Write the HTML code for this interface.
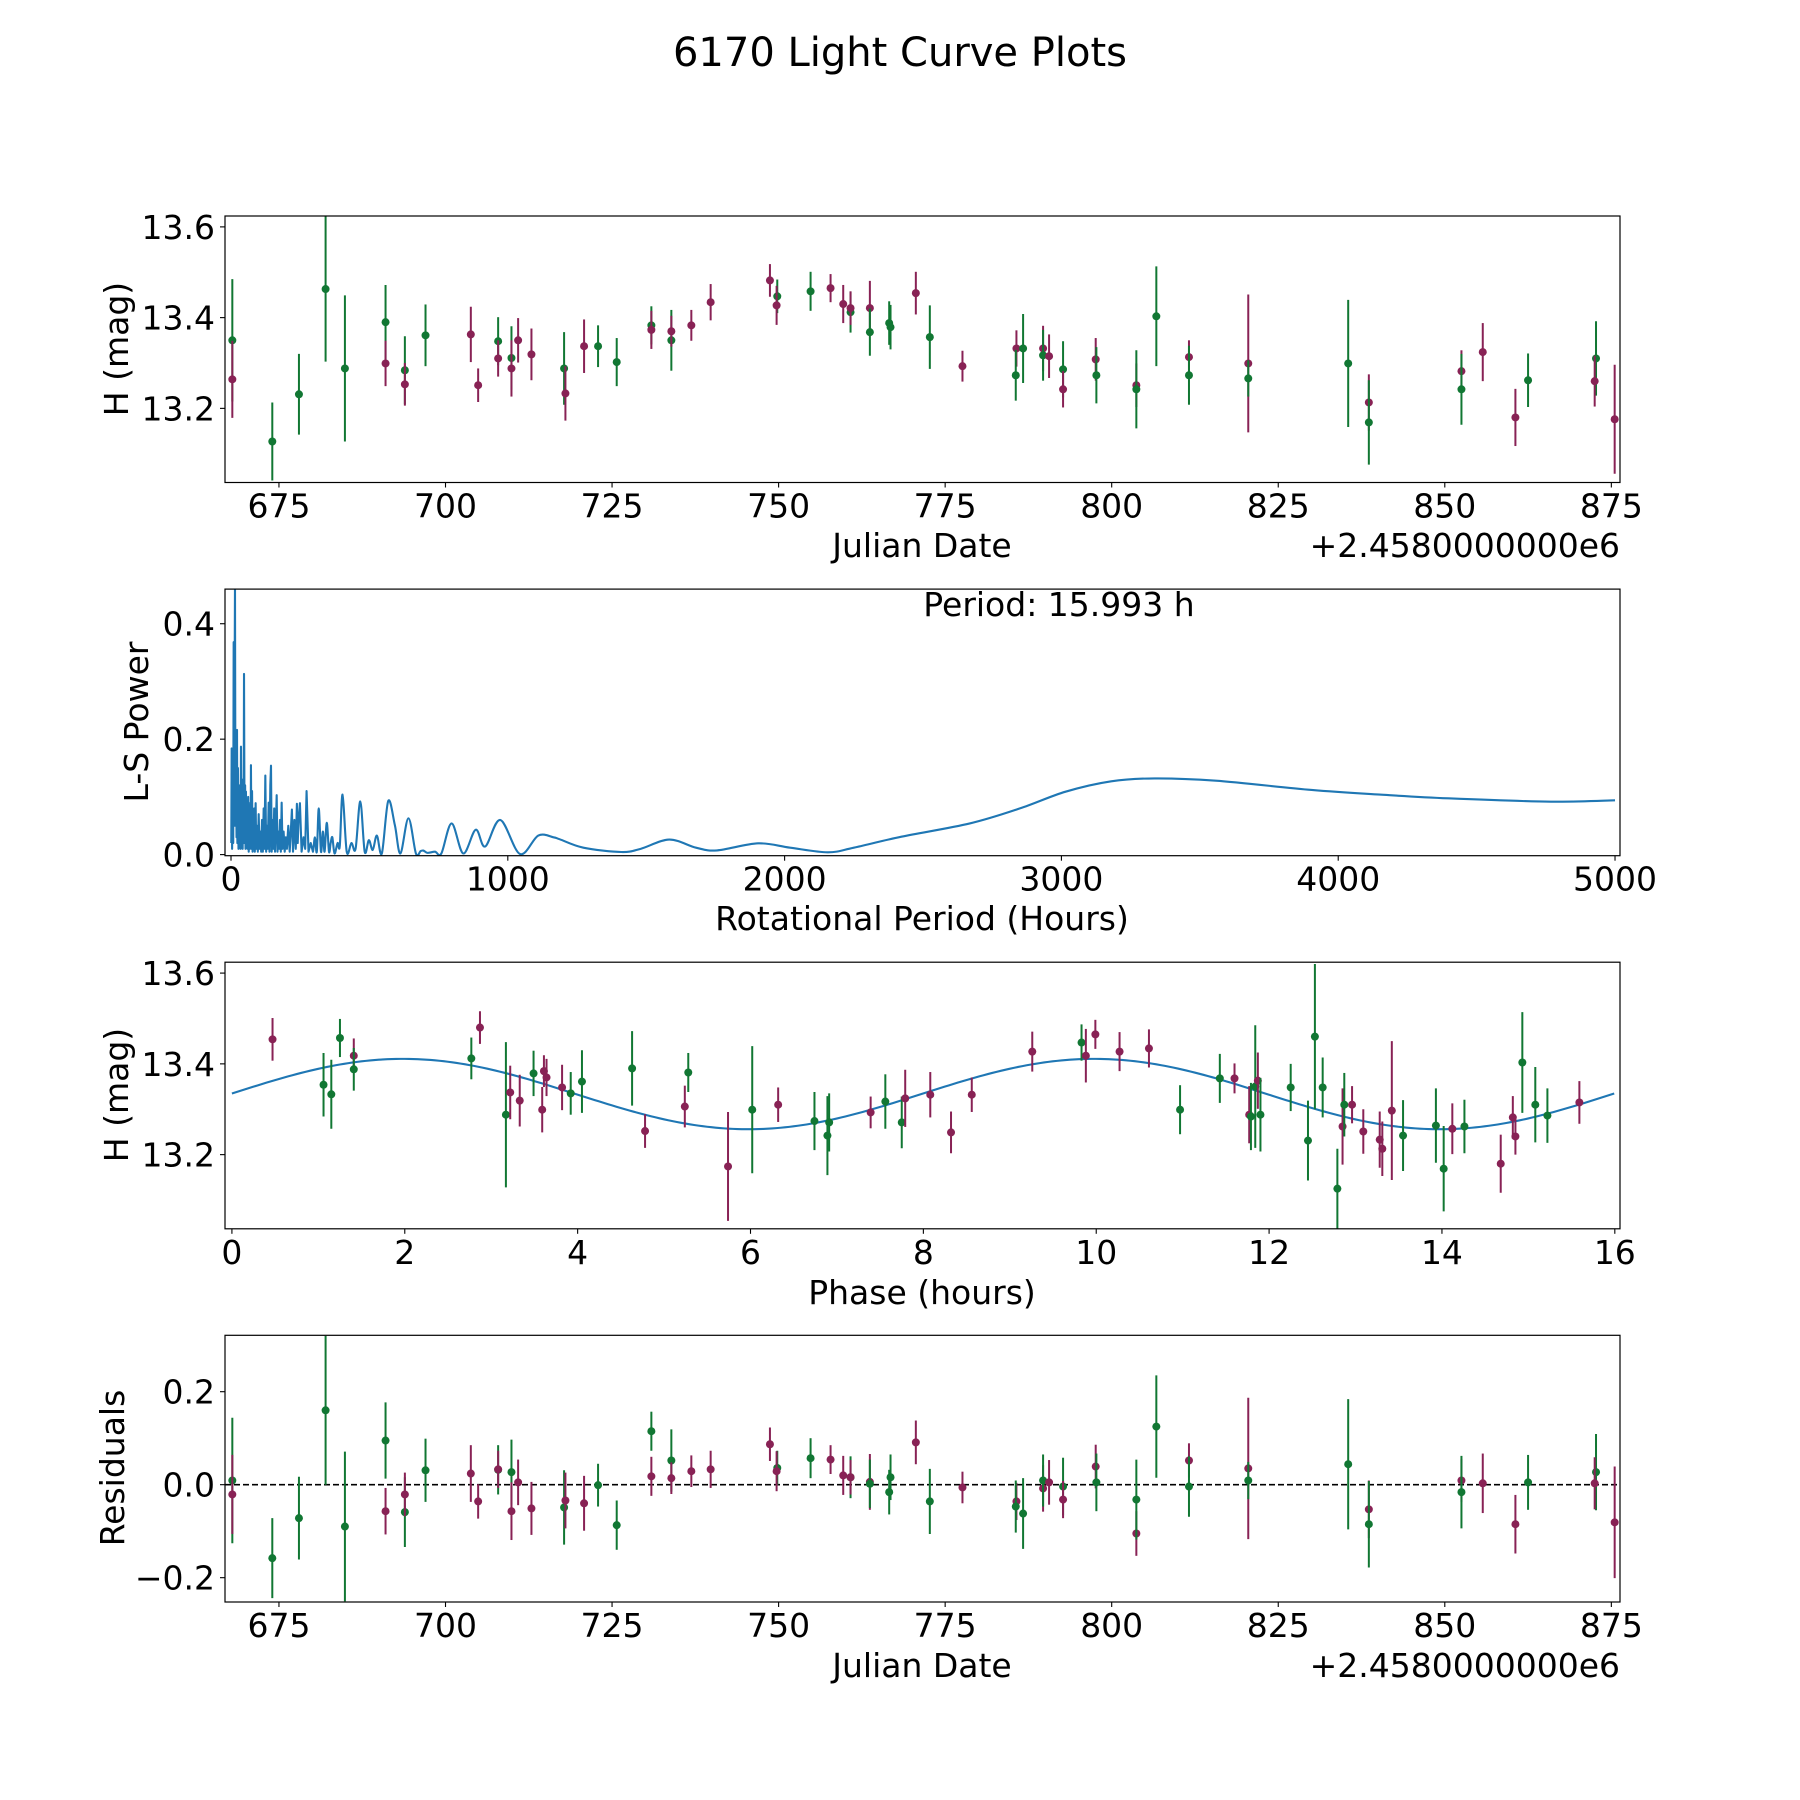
<!DOCTYPE html>
<html><head><meta charset="utf-8"><title>6170 Light Curve Plots</title>
<style>
html,body{margin:0;padding:0;background:#fff;}
svg{display:block;font-family:"DejaVu Sans","Liberation Sans",sans-serif;}
</style></head>
<body>
<svg id="fig" width="1800" height="1800" viewBox="0 0 1800 1800" xmlns="http://www.w3.org/2000/svg">
<rect x="0" y="0" width="1800" height="1800" fill="#fff"/>
<text x="900" y="66" font-size="40" text-anchor="middle" fill="#000">6170 Light Curve Plots</text>
</svg>
<script>
// ---------- light curve data ----------
const dates = [668.0,668.0,674.0,678.0,682.0,684.9,691.0,691.0,693.9,693.9,697.0,703.8,704.9,707.9,707.9,709.9,709.9,710.9,712.9,717.8,718.0,720.8,722.9,725.7,730.9,730.9,733.9,733.9,736.9,739.8,748.7,749.8,749.7,754.8,757.8,759.7,760.8,760.8,763.7,763.7,766.6,766.8,770.6,
772.7,777.6,785.7,785.6,786.7,789.7,789.7,790.6,792.7,792.7,797.6,797.7,803.7,803.7,806.7,811.6,811.6,820.5,820.5,835.5,838.6,838.6,852.5,852.5,855.7,860.6,862.5,872.7,872.5,875.5];
const mags = [13.350,13.264,13.127,13.231,13.463,13.288,13.390,13.299,13.284,13.253,13.361,13.363,13.251,13.348,13.310,13.311,13.288,13.350,13.319,13.288,13.233,13.337,13.337,13.302,13.383,13.373,13.350,13.370,13.383,13.434,13.482,13.447,13.427,13.458,13.465,13.430,13.412,13.421,13.421,13.368,13.388,13.379,13.454,
13.357,13.293,13.332,13.273,13.332,13.332,13.317,13.315,13.286,13.242,13.308,13.273,13.251,13.242,13.403,13.313,13.273,13.299,13.266,13.299,13.213,13.169,13.282,13.242,13.324,13.180,13.262,13.310,13.260,13.176];
const errs = [0.135,0.085,0.086,0.089,0.160,0.161,0.082,0.050,0.075,0.047,0.068,0.061,0.037,0.053,0.040,0.070,0.062,0.049,0.057,0.080,0.060,0.059,0.046,0.053,0.042,0.042,0.067,0.034,0.034,0.040,0.036,0.037,0.043,0.043,0.031,0.042,0.045,0.037,0.060,0.052,0.048,0.049,0.047,
0.070,0.034,0.040,0.056,0.076,0.050,0.056,0.048,0.062,0.040,0.047,0.062,0.048,0.086,0.110,0.037,0.065,0.152,0.040,0.140,0.062,0.093,0.046,0.078,0.064,0.063,0.059,0.082,0.056,0.120];
const groups = ["g","m","g","g","g","g","g","m","g","m","g","m","m","g","m","g","m","m","m","g","m","m","g","g","g","m","g","m","m","m","m","g","m","g","m","m","g","m","m","g","g","g","m",
"g","m","m","g","g","m","g","m","g","m","m","g","m","g","g","m","g","m","g","g","m","g","m","g","m","m","g","g","m","m"];
const residuals = [0.009,-0.021,-0.158,-0.072,0.160,-0.090,0.095,-0.057,-0.059,-0.021,0.031,0.024,-0.036,0.032,0.033,0.027,-0.057,0.005,-0.051,-0.049,-0.034,-0.040,-0.001,-0.087,0.115,0.018,0.052,0.014,0.029,0.033,0.087,0.036,0.029,0.057,0.054,0.020,0.016,0.016,0.006,0.002,-0.016,0.016,0.091,
-0.036,-0.006,-0.036,-0.047,-0.062,-0.008,0.009,0.005,-0.004,-0.032,0.039,0.005,-0.105,-0.032,0.125,0.052,-0.004,0.035,0.009,0.044,-0.053,-0.085,0.009,-0.016,0.003,-0.085,0.005,0.027,0.003,-0.081];

// ---------- phase-folded data ----------
const phases = [0.47,1.06,1.15,1.25,1.41,1.41,2.77,2.87,3.17,3.22,3.33,3.49,3.61,3.64,3.59,3.82,3.92,4.05,4.63,4.78,5.24,5.28,5.74,6.02,6.32,6.74,6.89,6.91,7.39,7.56,7.75,7.79,
8.08,8.32,8.56,9.26,9.83,9.88,9.99,10.27,10.61,10.97,11.43,11.60,11.77,11.79,11.84,11.87,11.90,12.25,12.45,12.53,12.62,12.79,12.85,12.87,12.96,13.09,13.28,13.31,13.42,13.55,13.93,14.02,14.12,14.26,14.68,14.82,14.85,14.93,15.08,15.22,15.59];
const phaseMags = [13.454,13.354,13.333,13.457,13.418,13.388,13.412,13.480,13.288,13.337,13.319,13.379,13.384,13.370,13.299,13.348,13.335,13.361,13.390,13.252,13.306,13.381,13.174,13.299,13.310,13.274,13.242,13.271,13.293,13.317,13.271,13.324,
13.332,13.249,13.332,13.427,13.447,13.418,13.465,13.427,13.434,13.299,13.368,13.368,13.288,13.284,13.350,13.363,13.288,13.348,13.231,13.460,13.348,13.125,13.262,13.310,13.310,13.251,13.233,13.213,13.297,13.242,13.264,13.169,13.257,13.262,13.180,13.282,13.240,13.403,13.310,13.286,13.315];
const phaseErrs = [0.047,0.070,0.076,0.042,0.038,0.047,0.046,0.036,0.160,0.059,0.057,0.050,0.035,0.041,0.050,0.050,0.047,0.069,0.082,0.037,0.046,0.043,0.120,0.140,0.038,0.064,0.087,0.064,0.035,0.060,0.057,0.063,
0.050,0.046,0.038,0.044,0.040,0.059,0.032,0.043,0.042,0.054,0.054,0.033,0.063,0.074,0.135,0.062,0.081,0.052,0.088,0.160,0.066,0.088,0.084,0.070,0.041,0.049,0.062,0.060,0.153,0.078,0.082,0.094,0.056,0.059,0.064,0.047,0.040,0.111,0.083,0.060,0.047];
const phaseGroups = ["m","g","g","g","m","g","g","m","g","m","m","g","m","m","m","m","g","g","g","m","m","g","m","g","m","g","g","g","m","g","g","m",
"m","m","m","m","g","m","m","m","m","g","g","m","m","g","g","m","g","g","g","g","g","g","m","g","m","m","m","m","m","g","g","g","m","g","m","m","m","g","g","g","m"];
// fitted sinusoid parameters (double-peaked model)
const fitMean = 13.3335;
const fitAmp = 0.0775;
const fitPeakPhase = 1.98;
const fitCycle = 7.9965;
const foldPeriod = 15.993;

// ---------- periodogram ----------
const lsPeriods = [1,2.4,4,6,8,9.6,11,14.4,16,18,20,21.7,23,25,27,29,31,33,34.5,36,38,40,42,44,45.5,47,49,51,52.5,54,56,58,60,62,64,66,68,70,71,72,74,76,78,80,82,84,86,89,91,94,97,100,103,106,109,112,115,118,121,124,127,130,133,136,139,142,144.5,147,150,153,156,159,162,165,168,171,174,177,180,183,186,190,194,198,202,207,212,216,220,224,229,234,238,241,244,249,255,262,268,273,280,288,296,
303,310,317,325,332,338,346,354,360,366,374,385,393,403,418,435,450,467,483,498,512,527,545,568,592,612,641,668,685,695,710,737,760,797,839,884,918,973,1044,1110,1165,1188,1273,1410,1480,1583,1680,1756,1904,2020,2156,2250,2422,2669,2850,3015,3180,3336,3558,3904,4150,4398,4768,5000];
const lsPower = [0.02,0.184,0.01,0.12,0.02,0.368,0.05,0.47,0.05,0.14,0.03,0.216,0.02,0.15,0.01,0.12,0.02,0.09,0.01,0.187,0.02,0.13,0.01,0.1,0.02,0.313,0.02,0.12,0.01,0.109,0.02,0.08,0.01,0.1,0.005,0.07,0.01,0.09,0.02,0.155,0.01,0.11,0.005,0.06,0.01,0.08,0.005,0.089,0.01,0.05,0.005,0.07,0.01,0.04,0.005,0.06,0.005,0.08,0.01,0.137,0.005,0.05,0.01,0.09,0.005,0.12,0.154,0.005,0.06,0.01,0.08,0.005,0.05,0.103,0.005,0.04,0.01,0.06,0.005,0.09,0.01,0.04,0.005,0.03,0.01,0.05,0.005,0.04,0.078,0.005,0.06,0.01,0.088,0.02,0.06,0.089,0.005,0.03,0.01,0.11,0.005,0.02,0.005,
0.03,0.005,0.08,0.005,0.04,0.005,0.055,0.005,0.02,0.03,0.002,0.02,0.015,0.104,0.005,0.02,0.01,0.092,0.005,0.025,0.008,0.033,0.002,0.093,0.051,0.002,0.063,0.002,0.006,0.007,0.003,0.005,0.002,0.054,0.002,0.043,0.014,0.06,0.001,0.033,0.03,0.0265,0.012,0.0045,0.01,0.026,0.012,0.0073,0.0195,0.012,0.004,0.012,0.031,0.054,0.08,0.109,0.127,0.132,0.128,0.112,0.104,0.0975,0.0917,0.094];
const periodLabel = "Period: 15.993 h";

// ---------- tick labels ----------
const dateTicks = [675,700,725,750,775,800,825,850,875];
const magTicks = [13.2,13.4,13.6];
const periodTicks = [0,1000,2000,3000,4000,5000];
const powerTicks = [0.0,0.2,0.4];
const phaseTicks = [0,2,4,6,8,10,12,14,16];
const residTicks = [-0.2,0.0,0.2];

const COLORS = {g:"#117733", m:"#882255"};
const BLUE = "#1f77b4";
const NS = "http://www.w3.org/2000/svg";
const svg = document.getElementById("fig");
const AL = 225, AR = 1620;

function mk(tag, attrs, parent){
  const e = document.createElementNS(NS, tag);
  for (const k in attrs) e.setAttribute(k, attrs[k]);
  (parent || svg).appendChild(e);
  return e;
}
function linScale(d0,d1,r0,r1){ return v => r0 + (v-d0)/(d1-d0)*(r1-r0); }

function makeAxes(name, top, bottom, xdom, ydom){
  const g = mk("g", {});
  
  
  const clipId = "clip-" + name;
  const cp = mk("clipPath", {id: clipId}, g);
  mk("rect", {x: AL, y: top, width: AR-AL, height: bottom-top}, cp);
  const plot = mk("g", {"clip-path": "url(#"+clipId+")"}, g);
  
  
  return {g, plot, top, bottom, x: linScale(xdom[0],xdom[1],AL,AR), y: linScale(ydom[0],ydom[1],bottom,top)};
}

function drawFrame(ax, name){
  const r = mk("rect", {x: AL, y: ax.top, width: AR-AL, height: ax.bottom-ax.top, fill: "none", stroke: "#000", "stroke-width": 1.2}, ax.g);
  
  
}

function xTicks(ax, ticks, fmt, name){
  ticks.forEach(t => {
    const X = ax.x(t);
    const l = mk("line", {x1: X, x2: X, y1: ax.bottom, y2: ax.bottom+5, stroke: "#000", "stroke-width": 1.1}, ax.g);
    
    
    const tx = mk("text", {x: X, y: ax.bottom+35, "font-size": 33, "text-anchor": "middle", fill: "#000"}, ax.g);
    
    
    tx.textContent = fmt(t);
  });
}
function yTicks(ax, ticks, fmt, name){
  ticks.forEach(t => {
    const Y = ax.y(t);
    const l = mk("line", {x1: AL-5, x2: AL, y1: Y, y2: Y, stroke: "#000", "stroke-width": 1.1}, ax.g);
    
    
    const tx = mk("text", {x: AL-10, y: Y+12, "font-size": 33, "text-anchor": "end", fill: "#000"}, ax.g);
    
    
    tx.textContent = fmt(t);
  });
}
function label(ax, text, x, y, rot, name, anchor){
  const a = {x: x, y: y, "font-size": 33, "text-anchor": anchor || "middle", fill: "#000"};
  if (rot) a.transform = "rotate(-90 " + x + " " + y + ")";
  const t = mk("text", a, ax.g);
  
  
  t.textContent = text;
}
function errPoints(ax, xs, ys, es, gs, name){
  for (let i=0;i<xs.length;i++){
    const X = ax.x(xs[i]), Y = ax.y(ys[i]);
    const l = mk("line", {x1: X, x2: X, y1: ax.y(ys[i]-es[i]), y2: ax.y(ys[i]+es[i]), stroke: COLORS[gs[i]], "stroke-width": 2}, ax.plot);
    
    
    const c = mk("circle", {cx: X, cy: Y, r: 4, fill: COLORS[gs[i]]}, ax.plot);
    
    
  }
}
const fmt1 = v => v.toFixed(1);
const fmtM = v => (v<0 ? "\u2212" + Math.abs(v).toFixed(1) : v.toFixed(1));
const fmt0 = v => String(v);

// ---- Panel 1: light curve ----
const ax1 = makeAxes("light-curve-panel", 216, 482.5, [666.9, 876.3], [13.0366, 13.624]);
errPoints(ax1, dates, mags, errs, groups, "light-curve");
drawFrame(ax1, "light-curve");
xTicks(ax1, dateTicks, fmt0, "light-curve");
yTicks(ax1, magTicks, fmt1, "light-curve");
label(ax1, "Julian Date", 922, 557, false, "light-curve-x-axis-title");
label(ax1, "+2.4580000000e6", AR, 557, false, "light-curve-x-offset-text", "end");
label(ax1, "H (mag)", 128, 349, true, "light-curve-y-axis-title");

// ---- Panel 2: periodogram ----
const ax2 = makeAxes("periodogram-panel", 589.1, 855.7, [-21.7, 5018], [-0.0019, 0.460]);
(function(){
  const pts = lsPeriods.map((p,i)=>[ax2.x(p), ax2.y(lsPower[i])]);
  let d = "M" + pts[0][0].toFixed(2) + "," + pts[0][1].toFixed(2);
  for (let i=1;i<pts.length;i++){
    if (lsPeriods[i] < 300){
      d += " L" + pts[i][0].toFixed(2) + "," + pts[i][1].toFixed(2);
    } else {
      const p0 = pts[i-2] || pts[i-1], p1 = pts[i-1], p2 = pts[i], p3 = pts[i+1] || pts[i];
      const c1x = p1[0] + (p2[0]-p0[0])/6, c1y = p1[1] + (p2[1]-p0[1])/6;
      const c2x = p2[0] - (p3[0]-p1[0])/6, c2y = p2[1] - (p3[1]-p1[1])/6;
      d += " C" + c1x.toFixed(2)+","+c1y.toFixed(2)+" "+c2x.toFixed(2)+","+c2y.toFixed(2)+" "+p2[0].toFixed(2)+","+p2[1].toFixed(2);
    }
  }
  const path = mk("path", {d: d, fill: "none", stroke: BLUE, "stroke-width": 2.1, "stroke-linejoin": "round"}, ax2.plot);
  
  
})();
drawFrame(ax2, "periodogram");
xTicks(ax2, periodTicks, fmt0, "periodogram");
yTicks(ax2, powerTicks, fmt1, "periodogram");
label(ax2, "Rotational Period (Hours)", 922, 930, false, "periodogram-x-axis-title");
label(ax2, "L-S Power", 148, 722, true, "periodogram-y-axis-title");
label(ax2, periodLabel, 1059, 616, false, "period-annotation");

// ---- Panel 3: phase-folded ----
const ax3 = makeAxes("phase-panel", 962.2, 1228.8, [-0.08, 16.06], [13.0366, 13.624]);
(function(){
  let d = "";
  const n = 320;
  for (let k=0;k<=n;k++){
    const p = foldPeriod * k / n;
    const m = fitMean + fitAmp*Math.cos(2*Math.PI*(p - fitPeakPhase)/fitCycle);
    d += (k===0?"M":" L") + ax3.x(p).toFixed(2) + "," + ax3.y(m).toFixed(2);
  }
  const path = mk("path", {d: d, fill: "none", stroke: BLUE, "stroke-width": 2.1}, ax3.plot);
  
  
})();
errPoints(ax3, phases, phaseMags, phaseErrs, phaseGroups, "phase");
drawFrame(ax3, "phase");
xTicks(ax3, phaseTicks, fmt0, "phase");
yTicks(ax3, magTicks, fmt1, "phase");
label(ax3, "Phase (hours)", 922, 1304, false, "phase-x-axis-title");
label(ax3, "H (mag)", 128, 1095, true, "phase-y-axis-title");

// ---- Panel 4: residuals ----
const ax4 = makeAxes("residuals-panel", 1335.3, 1602, [666.9, 876.3], [-0.2523, 0.3213]);
(function(){
  const l = mk("line", {x1: AL, x2: AR, y1: ax4.y(0), y2: ax4.y(0), stroke: "#000", "stroke-width": 1.6, "stroke-dasharray": "6,3"}, ax4.plot);
  
  
})();
errPoints(ax4, dates, residuals, errs, groups, "residual");
drawFrame(ax4, "residuals");
xTicks(ax4, dateTicks, fmt0, "residuals");
yTicks(ax4, residTicks, fmtM, "residuals");
label(ax4, "Julian Date", 922, 1677, false, "residuals-x-axis-title");
label(ax4, "+2.4580000000e6", AR, 1677, false, "residuals-x-offset-text", "end");
label(ax4, "Residuals", 124, 1468, true, "residuals-y-axis-title");
</script>
</body></html>
